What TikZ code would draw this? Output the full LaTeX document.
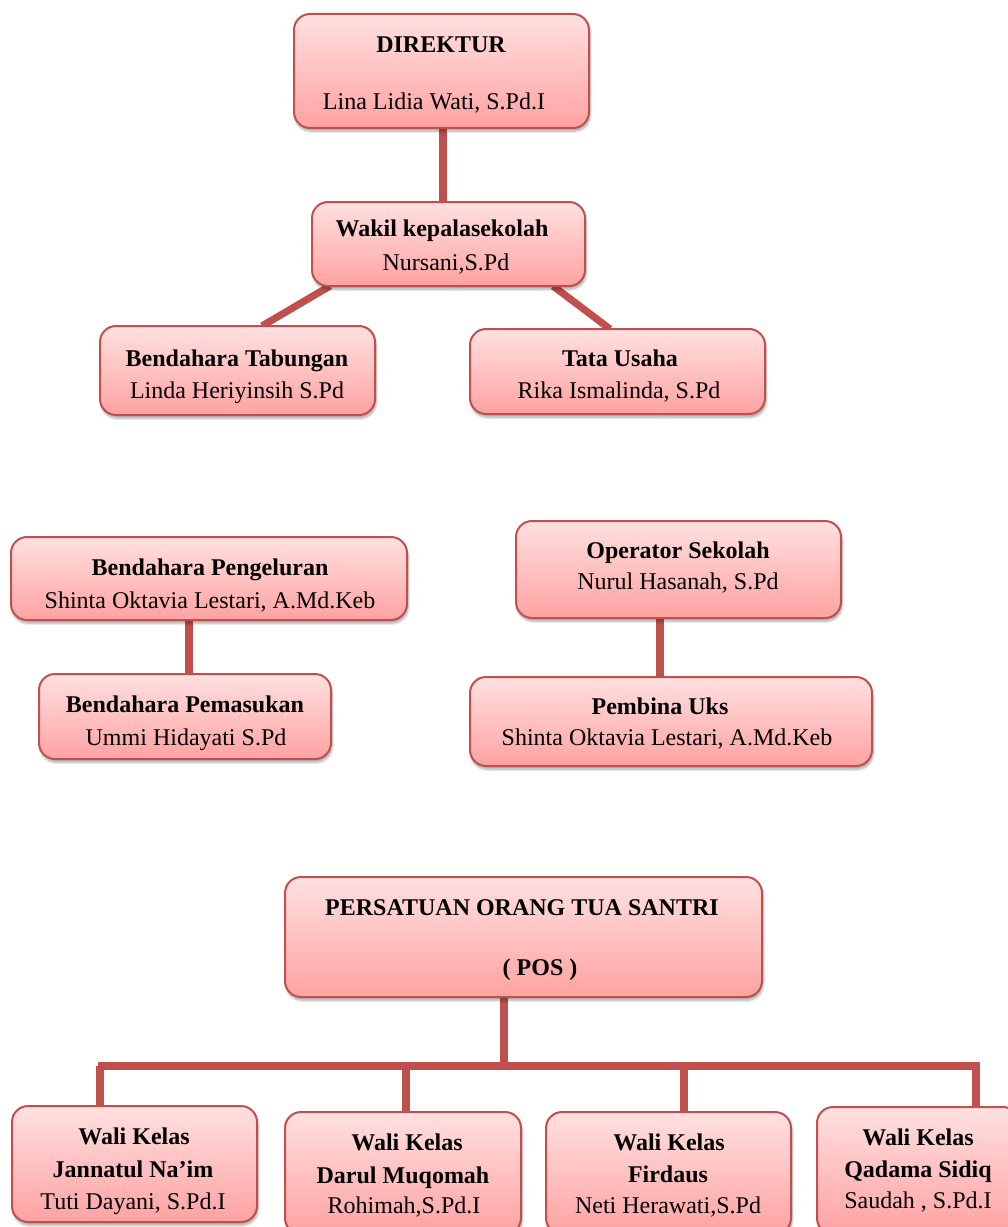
\documentclass[tikz,border=0pt]{standalone}
\usepackage{fontspec}
\setmainfont{Liberation Serif}
\usetikzlibrary{fit,shadows.blur,calc}
\definecolor{bord}{HTML}{C0504D}
\definecolor{ftop}{HTML}{FFE0E0}
\definecolor{fbot}{HTML}{FFA2A2}
\pgfdeclarelayer{bg}
\pgfsetlayers{bg,main}
\begin{document}
\begin{tikzpicture}[x=0.75pt,y=-0.75pt,
  box/.style={draw=bord, line width=1.5pt, rounded corners=12pt,
    top color=ftop, bottom color=fbot, inner sep=0pt, outer sep=0pt,
    blur shadow={shadow xshift=0.8pt, shadow yshift=-2.4pt, shadow opacity=35, shadow blur steps=6}},
  conn/.style={draw=bord, line width=5.4pt},
  tb/.style={anchor=base, font=\fontsize{18}{21}\selectfont\bfseries, inner sep=0pt},
  tr/.style={anchor=base, font=\fontsize{18}{21}\selectfont, inner sep=0pt}]
\useasboundingbox (0,0) rectangle (1007,1227);

% boxes
\node[box, fit={(294,14) (589,128)}] (dir) {};
\node[box, fit={(312,202) (585,286)}] (wak) {};
\node[box, fit={(100,326) (375,415)}] (tab) {};
\node[box, fit={(470,329) (765,414)}] (tu) {};
\node[box, fit={(11,537) (407,620)}] (peng) {};
\node[box, fit={(516,521) (841,618)}] (op) {};
\node[box, fit={(39,674) (331,759)}] (pem) {};
\node[box, fit={(470,677) (872,766)}] (uks) {};
\node[box, fit={(285,877) (762,997)}] (pos) {};
\node[box, fit={(12,1106) (257,1222)}] (jan) {};
\node[box, fit={(285,1112) (521,1234)}] (dar) {};
\node[box, fit={(546,1112) (791,1234)}] (fir) {};
\node[box, fit={(817,1107) (1019,1234)}] (qad) {};

% texts
\node[tb] (dirA) at (441,53) {DIREKTUR};
\node[tr] (dirB) at (434,110) {Lina Lidia Wati, S.Pd.I};
\node[tb] (wakA) at (442,236) {Wakil kepalasekolah};
\node[tr] (wakB) at (446,270) {Nursani,S.Pd};
\node[tb] (tabA) at (237,366) {Bendahara Tabungan};
\node[tr] (tabB) at (237,398) {Linda Heriyinsih S.Pd};
\node[tb] (tuA) at (620,366) {Tata Usaha};
\node[tr] (tuB) at (619,398) {Rika Ismalinda, S.Pd};
\node[tb] (pengA) at (210,575) {Bendahara Pengeluran};
\node[tr] (pengB) at (210,608) {Shinta Oktavia Lestari, A.Md.Keb};
\node[tb] (opA) at (678,558) {Operator Sekolah};
\node[tr] (opB) at (678,589) {Nurul Hasanah, S.Pd};
\node[tb] (pemA) at (185,712) {Bendahara Pemasukan};
\node[tr] (pemB) at (186,745) {Ummi Hidayati S.Pd};
\node[tb] (uksA) at (660,714) {Pembina Uks};
\node[tr] (uksB) at (667,745) {Shinta Oktavia Lestari, A.Md.Keb};
\node[tb] (posA) at (522,915) {PERSATUAN ORANG TUA SANTRI};
\node[tb] (posB) at (540,975) {( POS )};
\node[tb] (janA) at (134,1144) {Wali Kelas};
\node[tb] (janB) at (133,1177) {Jannatul Na’im};
\node[tr] (janC) at (133,1209) {Tuti Dayani, S.Pd.I};
\node[tb] (darA) at (407,1150) {Wali Kelas};
\node[tb] (darB) at (403,1183) {Darul Muqomah};
\node[tr] (darC) at (404,1213) {Rohimah,S.Pd.I};
\node[tb] (firA) at (669,1150) {Wali Kelas};
\node[tb] (firB) at (668,1182) {Firdaus};
\node[tr] (firC) at (668,1213) {Neti Herawati,S.Pd};
\node[tb] (qadA) at (918,1145) {Wali Kelas};
\node[tb] (qadB) at (918,1177) {Qadama Sidiq};
\node[tr] (qadC) at (918,1208) {Saudah , S.Pd.I};

% connectors
\coordinate (busL) at (98,1066);
\coordinate (busR) at (976,1066);
\coordinate (t1) at (100,1066);
\coordinate (t2) at (406,1066);
\coordinate (t3) at (684,1066);
\begin{pgfonlayer}{bg}
\draw[conn] ($(dir.south west)+(149,0)$) coordinate (d1) -- (d1 |- wak.north);
\draw[conn] ($(wak.south west)+(18,0)$) -- ($(tab.north west)+(162,0)$);
\draw[conn] ($(wak.south east)+(-32,0)$) -- ($(tu.north west)+(140,0)$);
\draw[conn] ($(peng.south west)+(178,0)$) coordinate (p1) -- (p1 |- pem.north);
\draw[conn] ($(op.south west)+(144,0)$) coordinate (o1) -- (o1 |- uks.north);
\draw[conn] ($(pos.south west)+(219,0)$) coordinate (q1) -- (q1 |- busL);
\draw[conn] (busL) -- (busR) -- (busR |- qad.north);
\draw[conn] (t1) -- (t1 |- jan.north);
\draw[conn] (t2) -- (t2 |- dar.north);
\draw[conn] (t3) -- (t3 |- fir.north);
\end{pgfonlayer}
\end{tikzpicture}
\end{document}
